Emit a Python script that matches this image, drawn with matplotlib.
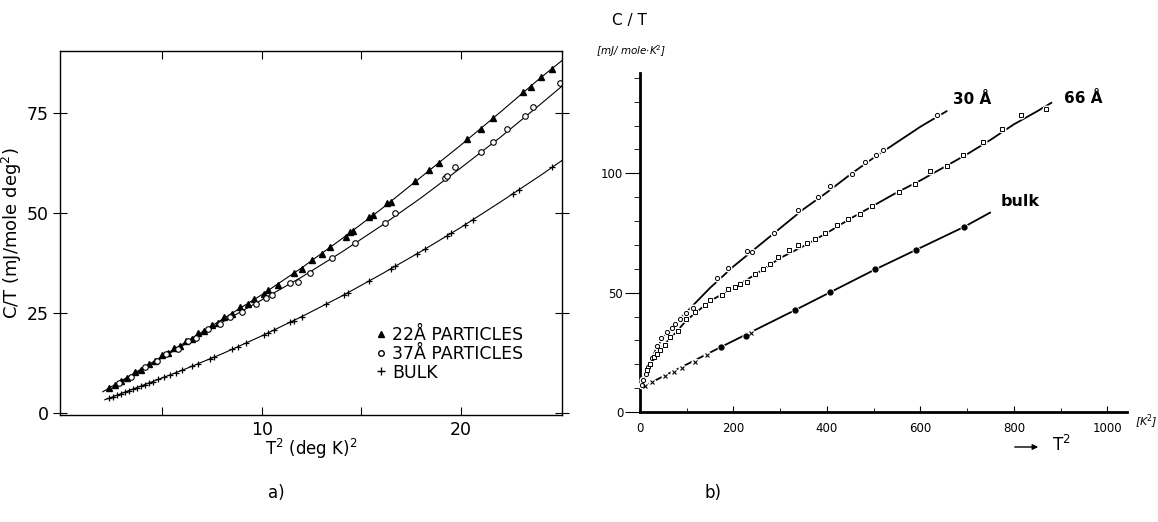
import matplotlib
matplotlib.use("Agg")
from matplotlib import pyplot as plt
from matplotlib.lines import Line2D
from matplotlib.ticker import MultipleLocator

# ---- panel a) : C/T vs T^2 ----
a_t2_curve_22 = [2.0, 4, 6, 8, 10, 12, 14, 16, 18, 20, 22, 24, 25.1]
a_c_curve_22 = [5.3, 11.2, 17.2, 23.4, 29.6, 36.3, 43.5, 51.0, 59.0, 67.0, 75.3, 83.8, 88.2]
a_t2_22 = [2.3, 2.6, 2.9, 3.2, 3.6, 3.9, 4.3, 4.6, 5.0, 5.3, 5.6, 5.9, 6.2, 6.5, 6.8, 7.1,
           7.5, 7.8, 8.1, 8.5, 8.9, 9.3, 9.6, 10.1, 10.3, 10.8, 11.6, 12.0, 12.5, 13.0, 13.4,
           14.2, 14.4, 14.6, 15.4, 15.6, 16.3, 16.5, 17.7, 18.4, 18.9, 20.3, 21.0, 21.6, 23.1,
           23.5, 24.0, 24.6]
a_c_22 = [6.3, 7.0, 8.1, 8.8, 10.2, 10.8, 12.3, 12.9, 14.4, 15.0, 16.2, 16.8, 18.0, 18.6,
          19.9, 20.5, 22.0, 22.6, 23.9, 24.8, 26.4, 27.3, 28.6, 29.8, 30.7, 32.1, 35.1, 36.1,
          38.3, 39.7, 41.5, 44.0, 45.2, 45.6, 49.0, 49.4, 52.4, 52.8, 57.9, 60.8, 62.4, 68.4,
          71.0, 73.8, 80.2, 81.5, 84.0, 86.0]

a_t2_curve_37 = [2.8, 4, 6, 8, 10, 12, 14, 16, 18, 20, 22, 24, 25.1]
a_c_curve_37 = [7.4, 10.9, 16.8, 22.7, 28.3, 34.0, 40.2, 46.8, 53.8, 61.3, 69.0, 77.2, 81.8]
a_t2_37 = [2.8, 3.4, 4.1, 4.7, 5.2, 5.8, 6.3, 6.7, 7.3, 7.9, 8.4, 9.0, 9.7, 10.2, 10.5, 11.4,
           11.8, 12.4, 13.5, 14.7, 16.2, 16.7, 19.2, 19.3, 19.7, 21.0, 21.6, 22.3, 23.2, 23.6, 25.0]
a_c_37 = [7.5, 9.0, 11.4, 13.0, 14.7, 16.1, 18.0, 18.7, 20.9, 22.2, 24.0, 25.3, 27.2, 28.7,
          29.5, 32.6, 32.8, 35.0, 38.7, 42.6, 47.4, 49.9, 58.7, 59.3, 61.6, 65.2, 67.7, 71.0,
          74.2, 76.4, 82.4]

a_t2_curve_bulk = [2.1, 3, 4, 5, 6, 8, 10, 12, 14, 16, 18, 20, 22, 24, 25.1]
a_c_curve_bulk = [3.3, 5.0, 6.9, 8.8, 10.7, 14.8, 19.3, 24.1, 29.2, 34.7, 40.4, 46.4, 52.8, 59.4, 63.2]
a_t2_bulk = [2.3, 2.5, 2.7, 2.9, 3.1, 3.3, 3.5, 3.7, 3.9, 4.1, 4.3, 4.5, 4.8, 5.1, 5.4, 5.7,
             6.0, 6.5, 6.8, 7.4, 7.6, 8.5, 8.8, 9.2, 10.1, 10.3, 10.6, 11.4, 11.6, 12.0, 13.2,
             14.1, 14.3, 15.4, 16.5, 16.7, 17.8, 18.2, 19.3, 19.5, 20.2, 20.6, 22.6, 22.9, 24.6]
a_c_bulk = [3.7, 4.1, 4.4, 4.8, 5.2, 5.6, 5.9, 6.3, 6.7, 7.1, 7.5, 7.85, 8.4, 9.0, 9.55, 10.1,
            10.7, 11.7, 12.3, 13.55, 13.95, 15.9, 16.6, 17.5, 19.55, 20.0, 20.75, 22.65, 23.1,
            24.1, 27.15, 29.5, 30.0, 33.0, 36.1, 36.7, 39.8, 41.0, 44.3, 44.9, 47.0, 48.3, 54.8,
            55.8, 61.5]

a_legend = ["22\u00c5 PARTICLES", "37\u00c5 PARTICLES", "BULK"]

# ---- panel b) : C/T vs T^2 ----
b_x_curve_30 = [0, 5, 10, 20, 35, 50, 75, 100, 150, 200, 250, 300, 350, 400, 450, 500, 550, 600, 656]
b_y_curve_30 = [10, 13, 16, 20.5, 26.5, 31.5, 37, 42, 52, 61, 69, 77, 85, 92, 99.5, 106.5, 113, 119.5, 126]
b_x_30 = [3.6, 7, 13, 18, 25, 36, 46, 57, 68, 75, 86, 99, 114, 164, 189, 230, 239, 286, 337,
          380, 407, 453, 481, 506, 519, 635]
b_y_30 = [11.2, 13.3, 16, 19, 22.5, 27.5, 30.8, 33.6, 35, 37, 39, 41.3, 43.4, 56, 60.4, 67.5,
          67, 75, 84.6, 90, 94.7, 99.9, 104.7, 107.5, 109.6, 124.3]

b_x_curve_66 = [5, 15, 30, 50, 75, 100, 150, 200, 250, 300, 350, 400, 450, 500, 550, 600, 650,
                700, 750, 800, 850, 880]
b_y_curve_66 = [12, 17, 22.5, 28, 33, 38.5, 46.5, 52, 58, 64.5, 69.5, 75, 81, 86.5, 92, 97,
                102.5, 108, 114, 120.5, 126, 129.5]
b_x_66 = [16, 22, 29, 36, 43, 54, 64, 82, 99, 118, 139, 150, 175, 189, 204, 214, 229, 246, 264,
          279, 296, 318, 337, 357, 375, 396, 421, 446, 471, 496, 555, 588, 620, 656, 692, 733,
          774, 816, 868]
b_y_66 = [17.5, 20, 23, 24.5, 26, 28, 31.5, 34, 39, 42, 44.8, 47, 49, 51.7, 52.4, 53.6, 54.5,
          58, 60, 62, 65, 67.8, 70, 70.6, 72.4, 74.8, 78.3, 81, 83, 86.3, 92.2, 95.7, 100.8,
          102.9, 107.5, 113, 118.4, 124.3, 127]

b_x_curve_bulk = [0, 174, 332, 503, 693, 749]
b_y_curve_bulk = [10, 27.3, 42.7, 59.7, 77.5, 83.5]
b_x_bulk_cross = [11, 25, 54, 72, 89, 118, 143, 237]
b_y_bulk_cross = [10.8, 12.6, 15, 16.8, 18.6, 21, 23.8, 33]
b_x_bulk_dot = [174, 226, 332, 406, 503, 590, 693]
b_y_bulk_dot = [27.3, 32, 42.7, 50.3, 59.7, 68, 77.5]

fig = plt.figure(figsize=(11.58, 5.22), dpi=100)

# ================= a) =================
ax1 = fig.add_axes([60 / 1158, 107 / 522, 502 / 1158, 364 / 522])
ax1.plot(a_t2_curve_22, a_c_curve_22, color="black", lw=0.8)
ax1.plot(a_t2_curve_37, a_c_curve_37, color="black", lw=0.8)
ax1.plot(a_t2_curve_bulk, a_c_curve_bulk, color="black", lw=0.8)
ax1.plot(a_t2_22, a_c_22, "^", color="black", ms=4.5, ls="none")
ax1.plot(a_t2_37, a_c_37, "o", mfc="white", mec="black", mew=0.8, ms=4, ls="none")
ax1.plot(a_t2_bulk, a_c_bulk, "+", color="black", ms=5, mew=0.9, ls="none")

ax1.set_xlim(-0.15, 25.08)
ax1.set_ylim(-0.5, 90.5)
ax1.set_xticks([5, 10, 15, 20])
ax1.set_xticklabels(["", "10", "", "20"])
ax1.set_yticks([0, 25, 50, 75])
ax1.tick_params(axis="x", direction="in", length=6, labelsize=12.5, pad=4, top=True)
ax1.tick_params(axis="y", direction="inout", length=10, labelsize=12.5, pad=3, right=True)
for sp in ax1.spines.values():
    sp.set_linewidth(1.0)
ax1.set_xlabel(r"T$^2$ (deg K)$^2$", fontsize=12, labelpad=-1)
ax1.set_ylabel(r"C/T (mJ/mole deg$^2$)", fontsize=13, labelpad=2)

handles = [
    Line2D([], [], marker="^", color="black", ls="none", ms=5),
    Line2D([], [], marker="o", mfc="white", mec="black", ls="none", ms=4),
    Line2D([], [], marker="+", color="black", ls="none", ms=6),
]
ax1.legend(handles, a_legend, loc="upper left", bbox_to_anchor=(0.63, 0.245), frameon=False,
           fontsize=12.5, handlelength=0.6, handletextpad=0.3, labelspacing=0.05,
           borderpad=0, borderaxespad=0)

fig.text(276 / 1158, 1 - 493 / 522, "a)", fontsize=12, ha="center", va="center")

# ================= b) =================
ax2 = fig.add_axes([640 / 1158, 110 / 522, 487 / 1158, 339 / 522])
ax2.plot(b_x_curve_30, b_y_curve_30, color="black", lw=1.3, zorder=2)
ax2.plot(b_x_curve_66, b_y_curve_66, color="black", lw=1.3, zorder=2)
ax2.plot(b_x_curve_bulk, b_y_curve_bulk, color="black", lw=1.3, zorder=2)
# small white halo under the markers gives the broken-line look
for xs, ys in [(b_x_30, b_y_30), (b_x_66, b_y_66), (b_x_bulk_cross, b_y_bulk_cross),
               (b_x_bulk_dot, b_y_bulk_dot)]:
    ax2.plot(xs, ys, "o", color="white", ms=4.8, ls="none", zorder=3, clip_on=False)
ax2.plot(b_x_30, b_y_30, "o", mfc="white", mec="black", mew=0.7, ms=3, ls="none", zorder=4,
         clip_on=False)
ax2.plot(b_x_66, b_y_66, "s", mfc="white", mec="black", mew=0.7, ms=3.5, ls="none", zorder=4,
         clip_on=False)
ax2.plot(b_x_bulk_cross, b_y_bulk_cross, "x", color="black", mew=0.8, ms=3, ls="none", zorder=4)
ax2.plot(b_x_bulk_dot, b_y_bulk_dot, "o", color="black", ms=3.5, ls="none", zorder=4)

ax2.set_xlim(0, 1042)
ax2.set_ylim(0, 142)
for s in ["top", "right"]:
    ax2.spines[s].set_visible(False)
ax2.spines["left"].set_linewidth(2)
ax2.spines["bottom"].set_linewidth(2)
ax2.set_xticks([0, 200, 400, 600, 800, 1000])
ax2.xaxis.set_minor_locator(MultipleLocator(100))
ax2.set_yticks([0, 50, 100])
ax2.yaxis.set_minor_locator(MultipleLocator(10))
ax2.tick_params(axis="x", which="major", direction="in", length=4, labelsize=8.5, pad=7)
ax2.tick_params(axis="x", which="minor", direction="in", length=3)
ax2.tick_params(axis="y", which="major", direction="out", length=11, labelsize=8.5, pad=1)
ax2.tick_params(axis="y", which="minor", direction="out", length=4)

ax2.text(710, 131, "30 \u00c5", fontsize=11, fontweight="bold", ha="center", va="center")
ax2.text(948, 131.4, "66 \u00c5", fontsize=11, fontweight="bold", ha="center", va="center")
ax2.text(813, 88, "bulk", fontsize=11.5, fontweight="bold", ha="center", va="center")

fig.text(629 / 1158, 1 - 21 / 522, "C / T", fontsize=11, ha="center", va="center")
fig.text(631 / 1158, 1 - 51 / 522, r"[mJ/ mole$\cdot$K$^2$]", fontsize=7.5, style="italic",
         ha="center", va="center")
fig.text(1146 / 1158, 1 - 422 / 522, r"[K$^2$]", fontsize=8, style="italic",
         ha="center", va="center")
fig.text(1061 / 1158, 1 - 445 / 522, r"T$^2$", fontsize=12, ha="center", va="center")
ax2.annotate("", xy=(1041, 75), xytext=(1012, 75), xycoords="figure pixels",
             textcoords="figure pixels",
             arrowprops=dict(arrowstyle="-|>", color="black", lw=1, mutation_scale=8))

fig.text(713 / 1158, 1 - 493 / 522, "b)", fontsize=12, ha="center", va="center")

fig.savefig("out.png", dpi=100)
